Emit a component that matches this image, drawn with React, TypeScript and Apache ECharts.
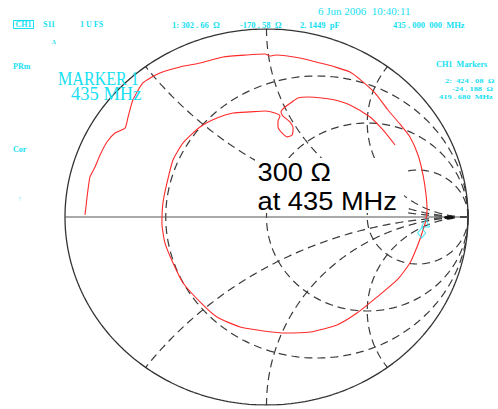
import { useEffect, useRef } from "react";
import * as echarts from "echarts";

// Smith chart graticule: constant-resistance circles and constant-reactance arcs
const resistanceCircles = [1 / 3, 1, 3];
const reactanceArcs = [0.5, 1, 2, -0.5, -1, -2];

// Measured S11 trace, reflection coefficient (real / imaginary parts)
const traceRe = [
  -0.901, -0.896, -0.891, -0.886, -0.876, -0.851, -0.826, -0.792, -0.752, -0.702,
  -0.687, -0.663, -0.613, -0.529, -0.429, -0.33, -0.216, -0.097, -0.007, 0.017,
  0.047, 0.166, 0.266, 0.34, 0.414, 0.474, 0.538, 0.603, 0.658, 0.712,
  0.752, 0.777, 0.792, 0.797, 0.787, 0.772, 0.747, 0.712, 0.648, 0.548,
  0.449, 0.35, 0.216, 0.082, -0.047, -0.132, -0.246, -0.315, -0.414, -0.464,
  -0.504, -0.519, -0.514, -0.494, -0.464, -0.414, -0.33, -0.246, -0.166, -0.082,
  -0.007, 0.042, 0.067, 0.057, 0.057, 0.077, 0.102, 0.127, 0.132, 0.117,
  0.082, 0.072, 0.092, 0.127, 0.156, 0.206, 0.275, 0.34, 0.414, 0.514,
  0.578, 0.638,
];
const traceIm = [
  0.011, 0.053, 0.101, 0.144, 0.213, 0.266, 0.33, 0.399, 0.447, 0.473,
  0.532, 0.622, 0.713, 0.766, 0.798, 0.819, 0.851, 0.862, 0.867, 0.856,
  0.862, 0.846, 0.819, 0.798, 0.771, 0.723, 0.66, 0.569, 0.5, 0.426,
  0.33, 0.223, 0.117, 0.037, -0.032, -0.085, -0.16, -0.245, -0.335, -0.426,
  -0.511, -0.574, -0.612, -0.617, -0.601, -0.585, -0.532, -0.468, -0.351, -0.245,
  -0.138, -0.032, 0.074, 0.181, 0.303, 0.394, 0.479, 0.527, 0.553, 0.559,
  0.564, 0.553, 0.537, 0.511, 0.479, 0.447, 0.426, 0.436, 0.473, 0.505,
  0.537, 0.559, 0.585, 0.612, 0.633, 0.638, 0.633, 0.622, 0.596, 0.532,
  0.463, 0.383,
];

// Marker readouts (ohms, MHz)
const z0 = 50;
const markerNames = ["1", "2"];
const markerResistance = [302.66, 424.08];
const markerReactance = [-170.58, -24.188];
const markerFreqMHz = [435.0, 419.68];
const marker1CapPf = 2.1449;

const CYAN = "#16e0f2";
const GRID = "#3a3a3a";

const gammaOf = (r: number, x: number): [number, number] => {
  const den = (r + 1) * (r + 1) + x * x;
  return [(r * r + x * x - 1) / den, (2 * x) / den];
};

const circlePoints = (cx: number, cy: number, rad: number, a0: number, a1: number, n: number) => {
  const pts: [number, number][] = [];
  for (let i = 0; i <= n; i++) {
    const a = a0 + ((a1 - a0) * i) / n;
    pts.push([cx + rad * Math.cos(a), cy + rad * Math.sin(a)]);
  }
  return pts;
};

const resistancePath = (r: number) =>
  circlePoints(r / (1 + r), 0, 1 / (1 + r), 0, Math.PI * 2, 240);

const reactancePath = (x: number) => {
  const cy = 1 / x;
  const rad = Math.abs(1 / x);
  const [gx, gy] = gammaOf(0, x);
  const a0 = Math.atan2(-cy, 0);
  let d = Math.atan2(gy - cy, gx - 1) - a0;
  while (d > Math.PI) d -= Math.PI * 2;
  while (d < -Math.PI) d += Math.PI * 2;
  return circlePoints(1, cy, rad, a0, a0 + d, 200);
};

const fmtSpaced = (v: number, digits: number) => v.toFixed(digits).replace(".", " . ");

function buildOption() {
  const dashed = { color: GRID, width: 1.2, type: [8, 5] as number[] };
  const gridSeries: any[] = [];
  resistanceCircles.forEach((r) =>
    gridSeries.push({
      type: "line",
      data: resistancePath(r),
      showSymbol: false,
      silent: true,
      lineStyle: dashed,
      z: 1,
    })
  );
  reactanceArcs.forEach((x) =>
    gridSeries.push({
      type: "line",
      data: reactancePath(x),
      showSymbol: false,
      silent: true,
      lineStyle: dashed,
      z: 1,
    })
  );
  // outer |Γ| = 1 boundary and real axis
  gridSeries.push({
    type: "line",
    data: circlePoints(0, 0, 1, 0, Math.PI * 2, 360),
    showSymbol: false,
    silent: true,
    lineStyle: { color: "#333", width: 1.3 },
    z: 1,
  });
  gridSeries.push({
    type: "line",
    data: [
      [-1, 0],
      [1, 0],
    ],
    showSymbol: false,
    silent: true,
    lineStyle: { color: "#555", width: 1.1 },
    z: 1,
  });

  const trace = traceRe.map((v, i) => [v, traceIm[i]]);
  const markerGamma = markerResistance.map((r, i) =>
    gammaOf(r / z0, markerReactance[i] / z0)
  );

  const t = (
    text: string,
    x: number,
    y: number,
    font: string,
    fill = CYAN,
    extra: any = {}
  ) => ({
    type: "text",
    x,
    y,
    z: 50,
    ...extra,
    style: { text, x: 0, y: 0, font, fill, textAlign: "left", textVerticalAlign: "middle" },
  });

  const small = 'bold 8px "Liberation Serif"';
  const readout = 'bold 8.5px "Liberation Serif"';
  const table = 'bold 7px "Liberation Serif"';
  const wide = { scaleX: 1.2 };

  return {
    animation: false,
    backgroundColor: "#ffffff",
    grid: { left: 65, top: 29, width: 403, height: 376 },
    xAxis: { type: "value", min: -1, max: 1, show: false },
    yAxis: { type: "value", min: -1, max: 1, show: false },
    series: [
      ...gridSeries,
      {
        type: "line",
        data: trace,
        showSymbol: false,
        smooth: 0.2,
        silent: true,
        lineStyle: { color: "#ff2a2a", width: 1.1 },
        z: 3,
      },
      {
        type: "scatter",
        data: [markerGamma[1]],
        symbol: "triangle",
        symbolSize: [8, 8],
        symbolOffset: [0, 4],
        itemStyle: { color: "rgba(0,0,0,0)", borderColor: CYAN, borderWidth: 1 },
        z: 4,
      },
      {
        type: "scatter",
        data: [markerGamma[0]],
        symbol: "diamond",
        symbolSize: [8, 10],
        symbolOffset: [0, -5],
        itemStyle: { color: "rgba(0,0,0,0)", borderColor: CYAN, borderWidth: 1 },
        z: 4,
      },
    ],
    graphic: [
      // short bar on the real axis near the open-circuit end
      { type: "ellipse", z: 40, shape: { cx: 449, cy: 217.5, rx: 5, ry: 2 }, style: { fill: "#111" } },
      // header line
      { type: "rect", z: 50, shape: { x: 13.5, y: 20.5, width: 20, height: 8 }, style: { fill: "none", stroke: CYAN, lineWidth: 1 } },
      t("CH1", 15.5, 24.8, small),
      t("S11", 43, 24.5, small),
      t("1 U FS", 80, 24.5, small),
      t(`${markerNames[0]}: ${fmtSpaced(markerResistance[0], 2)}  Ω`, 172, 24.5, readout),
      t(`${fmtSpaced(markerReactance[0], 2)}  Ω`, 240, 24.5, readout),
      t(`${marker1CapPf.toFixed(4).replace(".", ". ")}  pF`, 300, 24.5, readout),
      t(`${fmtSpaced(markerFreqMHz[0], 3)}  000  MHz`, 393, 24.5, readout),
      t("6 Jun 2006  10:40:11", 318, 11, '11px "Liberation Serif"'),
      t("Δ", 52, 42, 'bold 6px "Liberation Serif"'),
      t("PRm", 13, 66.5, small),
      t("Cor", 13, 149, small),
      t("↑", 18, 199, 'bold 7px "Liberation Serif"'),
      // active marker annotation
      t("MARKER 1", 58, 79, '18.5px "Liberation Serif"', CYAN, { scaleX: 0.87 }),
      t(`${markerFreqMHz[0].toFixed(0)} MHz`, 71, 93.5, '18.5px "Liberation Serif"'),
      // marker table
      t("CH1  Markers", 436, 65, 'bold 7.5px "Liberation Serif"', CYAN, { scaleX: 1.1 }),
      t(`${markerNames[1]}:  ${fmtSpaced(markerResistance[1], 2)}  Ω`, 445, 80.5, table, CYAN, wide),
      t(`${fmtSpaced(markerReactance[1], 3)}  Ω`, 452, 88.5, table, CYAN, wide),
      t(`${fmtSpaced(markerFreqMHz[1], 3)}  MHz`, 439, 97, table, CYAN, wide),
      // callout
      { type: "rect", z: 45, shape: { x: 255, y: 158, width: 149, height: 55 }, style: { fill: "#ffffff" } },
      t("300 Ω", 257.5, 172.5, '25.5px "Liberation Sans"', "#000", { scaleX: 1.07 }),
      t("at 435 MHz", 257.5, 201.5, '25.5px "Liberation Sans"', "#000", { scaleX: 1.07 }),
    ],
  };
}

export default function App() {
  const ref = useRef<HTMLDivElement>(null);
  useEffect(() => {
    if (!ref.current) return;
    const chart = echarts.init(ref.current, null, { renderer: "svg" });
    chart.setOption(buildOption() as any);
    return () => chart.dispose();
  }, []);
  return (
    <div
      ref={ref}
      style={{ position: "fixed", left: 0, top: 0, width: 498, height: 409, background: "#fff" }}
    />
  );
}
